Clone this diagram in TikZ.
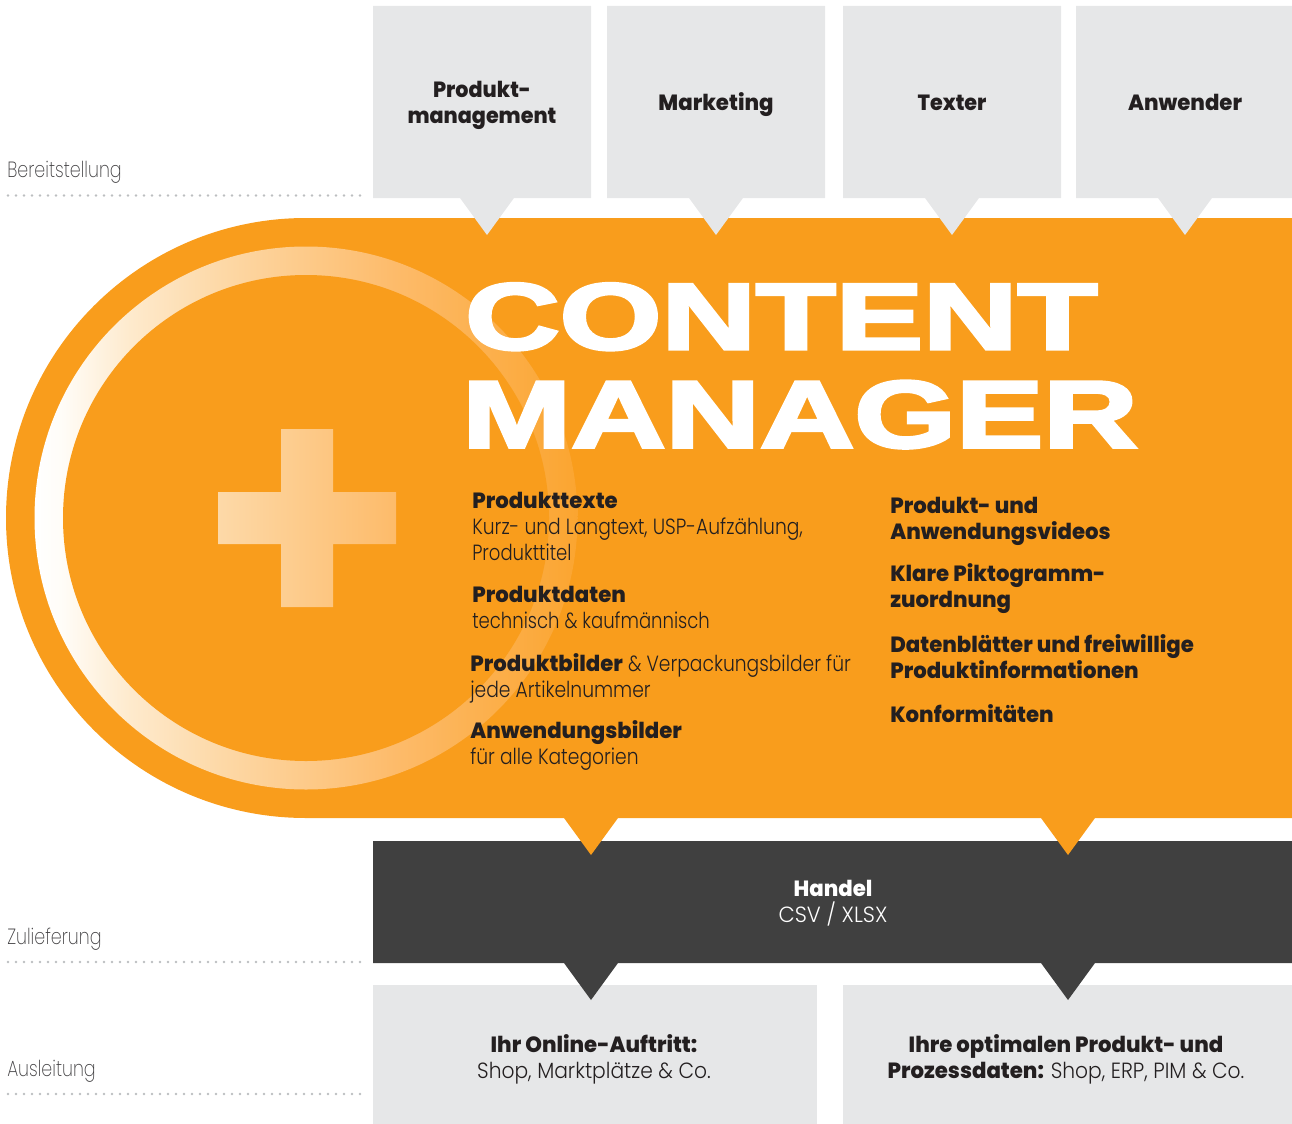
\documentclass[tikz,border=0pt]{standalone}
\usepackage{fontspec}
\usepackage{graphicx}
\setmainfont[FakeStretch=0.85]{Poppins Light}
\newfontfamily\narrowfont[FakeStretch=0.82]{Poppins Light}
\newfontfamily\boxfont[FakeStretch=0.92]{Poppins Light}
\newfontfamily\capsfont[FakeStretch=0.96]{Poppins Light}
\newfontfamily\sidefont[FakeStretch=0.795]{Poppins ExtraLight}
\newfontfamily\heavyfont[FakeStretch=0.965]{Poppins ExtraBold}
\newfontfamily\heavynarrow[FakeStretch=0.94]{Poppins ExtraBold}
\newfontfamily\titlefont[FakeBold=3]{Liberation Sans Bold}
\definecolor{boxgray}{HTML}{E6E7E8}
\definecolor{mainorange}{HTML}{F99D1C}
\definecolor{darkbox}{HTML}{404040}
\definecolor{inkdark}{HTML}{231F20}
\definecolor{dotgray}{HTML}{BCBEC0}
\definecolor{labelgray}{HTML}{414042}
\definecolor{plusleft}{HTML}{FDD9A8}
\definecolor{plusright}{HTML}{FDBB6A}
\pgfdeclarehorizontalshading{ringgrad}{100bp}{
 rgb(0bp)=(1,1,1);rgb(25.9bp)=(1,1,1);rgb(28.3bp)=(1,.99,.97);
 rgb(34.3bp)=(.996,.918,.804);rgb(42.1bp)=(.992,.851,.659);
 rgb(58bp)=(.992,.733,.416);rgb(74.2bp)=(.984,.647,.188);rgb(100bp)=(.984,.647,.188)}
\tikzset{
 graybox/.style={fill=boxgray},
 darkshape/.style={fill=darkbox},
 orangeshape/.style={fill=mainorange},
 dotline/.style={draw=dotgray,line width=2pt,line cap=round,dash pattern=on 0pt off 6pt},
 sidelabel/.style={anchor=base west,inner sep=0pt,text=labelgray,font=\sidefont\fontsize{16.5}{19.5}\selectfont},
 headtext/.style={anchor=base,inner sep=0pt,align=center,text=inkdark,font=\fontsize{16.5}{19.5}\selectfont},
 listtext/.style={anchor=base west,inner sep=0pt,align=left,text=inkdark,font=\fontsize{16.5}{19.5}\selectfont},
 titletext/.style={anchor=north west,inner sep=0pt,text=white},
}
\newcommand{\hv}[1]{{\heavyfont #1}}
\newcommand{\hn}[1]{{\heavynarrow #1}}
\newcommand{\nr}[1]{{\narrowfont #1}}
\newcommand{\bx}[1]{{\boxfont #1}}
\newcommand{\cp}[1]{{\capsfont #1}}
\begin{document}
\begin{tikzpicture}[x=0.75pt,y=-0.75pt]
\useasboundingbox (0,0) rectangle (1292,1124);
% main orange body
\fill[orangeshape] (306,218) -- (1292,218) -- (1292,818) -- (306,818) arc[start angle=90,delta angle=180,radius=300] -- cycle;
% ring and plus
\begin{scope}
\clip (306,518) circle[radius=271.5];
\path[shading=ringgrad] (25,240) rectangle (587,796);
\end{scope}
\fill[orangeshape] (306,518) circle[radius=243];
\path[left color=plusleft,right color=plusright]
 (281,429) -- (333,429) -- (333,492) -- (396,492) -- (396,544) -- (333,544) -- (333,607) -- (281,607) -- (281,544) -- (218,544) -- (218,492) -- (281,492) -- cycle;
% top boxes with pointers
\fill[graybox] (373,6) -- (591,6) -- (591,198) -- (514,198) -- (487,235) -- (460,198) -- (373,198) -- cycle;
\fill[graybox] (607,6) -- (825,6) -- (825,198) -- (743,198) -- (716,235) -- (689,198) -- (607,198) -- cycle;
\fill[graybox] (843,6) -- (1061,6) -- (1061,198) -- (979,198) -- (952,235) -- (925,198) -- (843,198) -- cycle;
\fill[graybox] (1076,6) -- (1292,6) -- (1292,198) -- (1212,198) -- (1185,235) -- (1158,198) -- (1076,198) -- cycle;
% bottom boxes
\fill[graybox] (373,985) rectangle (817,1124);
\fill[graybox] (843,985) rectangle (1292,1124);
% dark band
\fill[darkshape] (373,841) -- (1292,841) -- (1292,963) -- (1095,963) -- (1068,1000) -- (1041,963) -- (618,963) -- (591,1000) -- (564,963) -- (373,963) -- cycle;
\fill[orangeshape] (564,818) -- (618,818) -- (591,855) -- cycle;
\fill[orangeshape] (1041,818) -- (1095,818) -- (1068,855) -- cycle;
% dotted rules
\coordinate (d1a) at (8,195.5); \coordinate (d1b) at (364,195.5);
\coordinate (d2a) at (8,962); \coordinate (d2b) at (364,962);
\coordinate (d3a) at (8,1094); \coordinate (d3b) at (364,1094);
\draw[dotline] (d1a) -- (d1b);
\draw[dotline] (d2a) -- (d2b);
\draw[dotline] (d3a) -- (d3b);
% side labels
\node[sidelabel] (lbereit) at (7,177.5) {Bereitstellung};
\node[sidelabel] (lzuliefer) at (7,944.5) {Zulieferung};
\node[sidelabel] (lausleit) at (7,1076.5) {Ausleitung};
% top box labels
\node[headtext] (tprod) at (482,123.5) {\hn{Produkt-}\\\hn{management}};
\node[headtext] (tmark) at (716,110) {\hv{Marketing}};
\node[headtext] (ttext) at (952,110) {\hn{Texter}};
\node[headtext] (tanw) at (1185,110) {\hv{Anwender}};
% title
\node[titletext] (tcontent) at (465,283) {\resizebox{474pt}{49.5pt}{\titlefont CONTENT}};
\node[titletext] (tmanager) at (462,380.5) {\resizebox{506.5pt}{50pt}{\titlefont MANAGER}};
% left list
\node[listtext] (l1) at (472,560) {\hv{Produkttexte}\\Kurz- und Langtext, USP-Aufzählung,\\\nr{Produkttitel}};
\node[listtext] (l2) at (472,628) {\hv{Produktdaten}\\\nr{technisch \& kaufmännisch}};
\node[listtext] (l3) at (470,697) {\hv{Produktbilder} \& Verpackungsbilder für\\jede Artikelnummer};
\node[listtext] (l4) at (470,764) {\hv{Anwendungsbilder}\\für alle Kategorien};
% right list
\node[listtext] (r1) at (890,539) {\hv{Produkt- und}\\\hv{Anwendungsvideos}};
\node[listtext] (r2) at (890,607) {\hv{Klare Piktogramm-}\\\hv{zuordnung}};
\node[listtext] (r3) at (890,678) {\hv{Datenblätter und freiwillige}\\\hv{Produktinformationen}};
\node[listtext] (r4) at (890,722) {\hv{Konformitäten}};
% dark band label
\node[headtext,text=white] (handel) at (833,922) {\hv{Handel}\\\cp{CSV / XLSX}};
% bottom labels
\node[headtext] (bleft) at (594,1078) {\hv{Ihr Online-Auftritt:}\\\bx{Shop, Marktplätze \& Co.}};
\node[headtext] (bright) at (1066,1078) {\hv{Ihre optimalen Produkt- und}\\\hv{Prozessdaten:} \bx{Shop, ERP, PIM \& Co.}};
\end{tikzpicture}
\end{document}
